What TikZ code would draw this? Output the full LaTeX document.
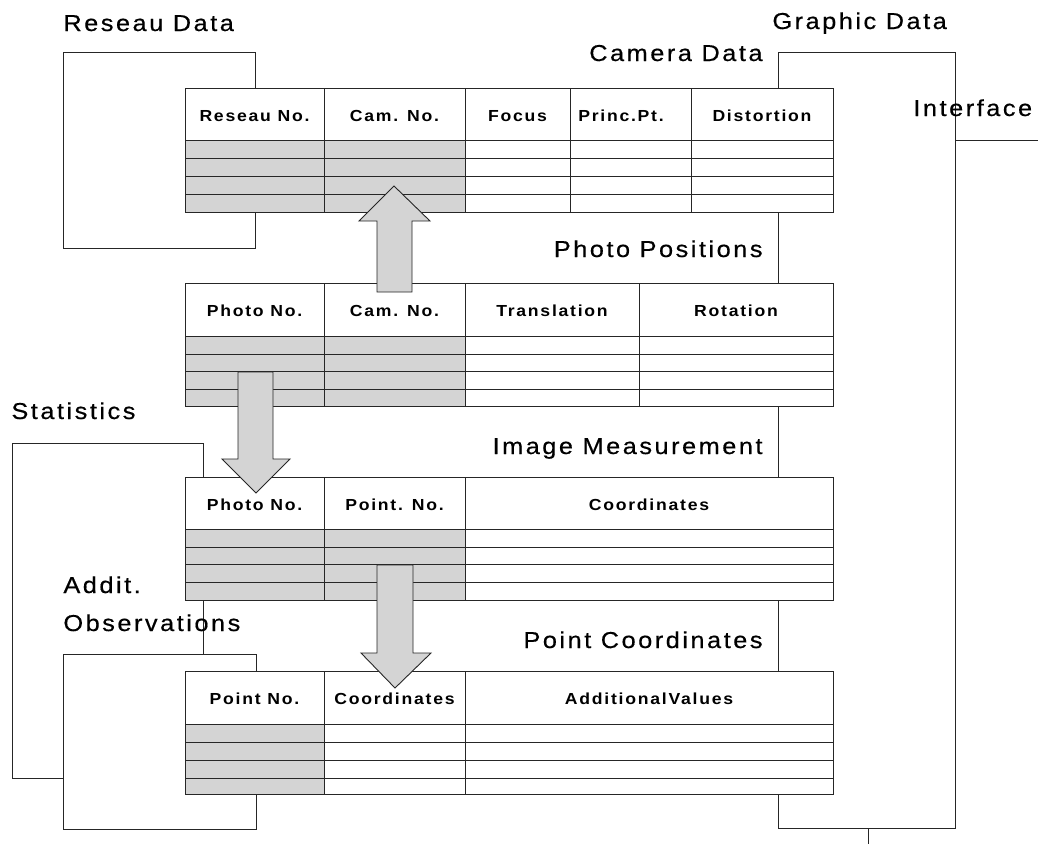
\documentclass[tikz,border=0pt]{standalone}
\usepackage{fontspec}
\setmainfont{Liberation Sans}
\newfontfamily\titlefont[FakeStretch=1.1,LetterSpace=11,FakeBold=0.5]{Liberation Sans}
\newfontfamily\headfont[FakeStretch=1.1,LetterSpace=11]{Liberation Sans}
\begin{document}
\begin{tikzpicture}[x=1pt,y=-1pt,line width=0.9pt,
  box/.style={draw=black!85, fill=white},
  grid/.style={draw=black!85},
  shaded/.style={fill=black!17},
  head/.style={font=\headfont\fontsize{16}{18}\selectfont\bfseries, inner sep=0pt, anchor=base},
  title/.style={font=\titlefont\fontsize{23}{26}\selectfont, inner sep=0pt, anchor=base west},
  rtitle/.style={title, anchor=base east},
  blockarrow/.style={draw=black!85, fill=black!17, line join=miter}]
\useasboundingbox (0,0) rectangle (1038,844);

% outer boxes
\draw[box] (12,443) rectangle (203,778);
\draw[box] (63,654) rectangle (256,829);
\draw[box] (63,52) rectangle (255,248);
\draw[box] (778,52) rectangle (955,828);
\coordinate (ifcStart) at (955,140);
\coordinate (ifcEnd) at (1038,140);
\draw[grid] (ifcStart) -- (ifcEnd);
\coordinate (gfxFoot) at (868,828);
\coordinate (gfxOut) at (868,844);
\draw[grid] (gfxFoot) -- (gfxOut);

% Camera Data
\fill[white] (185,88) rectangle (833,212);
\fill[shaded] (185,140) rectangle (465,212);
\foreach \y in {140,158,176,194} \draw[grid] (185,\y) -- (833,\y);
\foreach \x in {324,465,570,691} \draw[grid] (\x,88) -- (\x,212);
\draw[grid] (185,88) rectangle (833,212);
\foreach \x/\t/\n in {254.5/Reseau No./A, 394.5/Cam. No./B, 517.5/Focus/C, 621/Princ.Pt./D, 762/Distortion/E}
  \node[head] (cam\n) at (\x,121) {\t};

% Photo Positions
\fill[white] (185,283) rectangle (833,406);
\fill[shaded] (185,336) rectangle (465,406);
\foreach \y in {336,354,371,389} \draw[grid] (185,\y) -- (833,\y);
\foreach \x in {324,465,639} \draw[grid] (\x,283) -- (\x,406);
\draw[grid] (185,283) rectangle (833,406);
\foreach \x/\t/\n in {254.5/Photo No./A, 394.5/Cam. No./B, 552/Translation/C, 736/Rotation/D}
  \node[head] (pos\n) at (\x,316) {\t};

% Image Measurement
\fill[white] (185,477) rectangle (833,600);
\fill[shaded] (185,529) rectangle (465,600);
\foreach \y in {529,547,564,582} \draw[grid] (185,\y) -- (833,\y);
\foreach \x in {324,465} \draw[grid] (\x,477) -- (\x,600);
\draw[grid] (185,477) rectangle (833,600);
\foreach \x/\t/\n in {254.5/Photo No./A, 394.5/Point. No./B, 649/Coordinates/C}
  \node[head] (img\n) at (\x,510) {\t};

% Point Coordinates
\fill[white] (185,671) rectangle (833,794);
\fill[shaded] (185,724) rectangle (324,794);
\foreach \y in {724,742,760,778} \draw[grid] (185,\y) -- (833,\y);
\foreach \x in {324,465} \draw[grid] (\x,671) -- (\x,794);
\draw[grid] (185,671) rectangle (833,794);
\foreach \x/\t/\n in {254.5/Point No./A, 394.5/Coordinates/B, 649/AdditionalValues/C}
  \node[head] (pnt\n) at (\x,704) {\t};

% block arrows
\draw[blockarrow] (377,292) -- (377,221) -- (359,221) -- (394,186) -- (430,221) -- (412,221) -- (412,292) -- cycle;
\draw[blockarrow] (238,372) -- (238,459) -- (222,459) -- (256,493) -- (290,459) -- (273,459) -- (273,372) -- cycle;
\draw[blockarrow] (377,565) -- (377,653) -- (361,653) -- (395,688) -- (431,653) -- (413,653) -- (413,565) -- cycle;

% titles
\node[title] (reseau) at (63,31) {Reseau Data};
\node[title] (graphic) at (772,29) {Graphic Data};
\node[title] (interface) at (913,116) {Interface};
\node[title] (statistics) at (11,419) {Statistics};
\node[title] (addit) at (63,593) {Addit.};
\node[title] (observ) at (63,631) {Observations};
\node[rtitle] (camera) at (763,61) {Camera Data};
\node[rtitle] (photopos) at (763,257) {Photo Positions};
\node[rtitle] (imagemeas) at (763,454) {Image Measurement};
\node[rtitle] (pointcoord) at (763,648) {Point Coordinates};
\end{tikzpicture}
\end{document}
